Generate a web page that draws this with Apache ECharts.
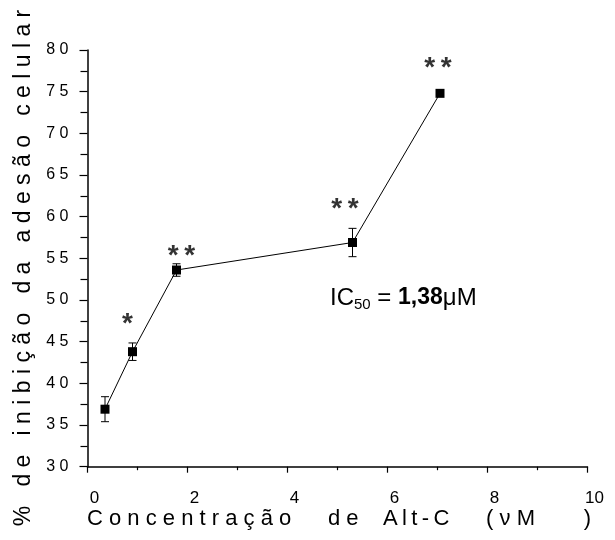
<!DOCTYPE html>
<html>
<head>
<meta charset="utf-8">
<script src="https://cdn.jsdelivr.net/npm/echarts@6/dist/echarts.min.js"></script>
<style>html,body{margin:0;padding:0;background:#fff}#c{width:615px;height:540px}</style>
</head>
<body>
<div id="c"></div>
<script>
// Data
var concentrations = [0.35, 0.9, 1.78, 5.3, 7.05];
var inhibition = [36.9, 43.8, 53.6, 56.9, 74.8];
var errors = [1.5, 1.05, 0.75, 1.7, 0];
var annotText = ['*', '**', '**', '**'];
var annotX = [0.80, 1.88, 5.15, 7.01];
var annotY = [47.8, 56.0, 61.6, 78.5];
var xTicks = [0, 2, 4, 6, 8, 10];
var yTicks = [30, 35, 40, 45, 50, 55, 60, 65, 70, 75, 80];
var xTitleParts = ['Concentração', 'de', 'Alt-C', '(νM', ')'];
var yTitle = '% de inibição da adesão celular';

function sp(n) { return new Array(n + 1).join(' '); }
function letters(w, sep) { return w.split('').join(sep); }

var xTitle = letters(xTitleParts[0], ' ') + sp(6) + letters(xTitleParts[1], ' ') + sp(4) +
  letters(xTitleParts[2], '\u2009') + sp(6) + letters(xTitleParts[3], ' ') + sp(8) + xTitleParts[4];
var yTitleText = yTitle.split(' ').map(function (w) { return letters(w, ' '); }).join(sp(3));

var lineData = concentrations.map(function (x, i) { return [x, inhibition[i]]; });
var errData = concentrations.map(function (x, i) { return [x, inhibition[i] - errors[i], inhibition[i] + errors[i]]; });
var annData = annotX.map(function (x, i) { return [x, annotY[i], annotText[i].split('').join('\u2009')]; });

var chart = echarts.init(document.getElementById('c'), null, {renderer: 'canvas'});
var font = 'Arial, "Liberation Sans", Helvetica, sans-serif';
chart.setOption({
  animation: false,
  backgroundColor: '#fff',
  grid: {left: 87.5, right: 27.5, top: 50, bottom: 73.3},
  xAxis: {
    type: 'value', min: 0, max: 10, interval: 2,
    axisLine: {lineStyle: {color: '#000', width: 1.5}},
    axisTick: {show: true, length: 6, lineStyle: {color: '#000', width: 1.2}},
    minorTick: {show: true, splitNumber: 2, length: 3.5, lineStyle: {color: '#000', width: 1.2}},
    splitLine: {show: false},
    axisLabel: {color: '#000', fontSize: 17, fontFamily: font, margin: 23, padding: [0, 0, 0, 14],
      formatter: function (v) { return xTicks.indexOf(v) >= 0 ? String(v) : ''; }}
  },
  yAxis: {
    type: 'value', min: 30, max: 80, interval: 5,
    axisLine: {lineStyle: {color: '#000', width: 1.5}},
    axisTick: {show: true, length: 8, lineStyle: {color: '#000', width: 1.2}},
    minorTick: {show: true, splitNumber: 2, length: 7, lineStyle: {color: '#000', width: 1.2}},
    splitLine: {show: false},
    axisLabel: {color: '#000', fontSize: 16, fontFamily: font, margin: 19,
      formatter: function (v) { return yTicks.indexOf(v) >= 0 ? String(v).split('').join(' ') : ''; }}
  },
  graphic: [
    {type: 'text', x: 87, y: 519, style: {text: xTitle, font: '22px ' + font, fill: '#000', textAlign: 'left', textVerticalAlign: 'middle'}},
    {type: 'text', x: 23.5, y: 268, rotation: Math.PI / 2, style: {text: yTitleText, font: '23px ' + font, fill: '#000', textAlign: 'center', textVerticalAlign: 'middle'}},
    {type: 'text', x: 330, y: 298, style: {
      text: '{a|IC}{s|50}{a| = }{b|1,38}{a|μM}',
      textVerticalAlign: 'middle',
      rich: {
        a: {fontSize: 24, fontFamily: font, fill: '#000', lineHeight: 28},
        s: {fontSize: 15, fontFamily: font, fill: '#000', verticalAlign: 'bottom', lineHeight: 15},
        b: {fontSize: 23, fontFamily: font, fontWeight: 'bold', fill: '#000', lineHeight: 28}
      }
    }}
  ],
  series: [
    {
      type: 'custom', data: errData, z: 3,
      renderItem: function (params, api) {
        var x = api.value(0);
        var lo = api.coord([x, api.value(1)]);
        var hi = api.coord([x, api.value(2)]);
        if (Math.abs(lo[1] - hi[1]) < 1) return null;
        var w = 4;
        var st = {stroke: '#000', lineWidth: 1};
        return {type: 'group', children: [
          {type: 'line', shape: {x1: lo[0], y1: lo[1], x2: hi[0], y2: hi[1]}, style: st},
          {type: 'line', shape: {x1: lo[0] - w, y1: lo[1], x2: lo[0] + w, y2: lo[1]}, style: st},
          {type: 'line', shape: {x1: hi[0] - w, y1: hi[1], x2: hi[0] + w, y2: hi[1]}, style: st}
        ]};
      }
    },
    {
      type: 'line', data: lineData, z: 4,
      symbol: 'rect', symbolSize: 9,
      itemStyle: {color: '#000'},
      lineStyle: {color: '#000', width: 1}
    },
    {
      type: 'scatter', data: annData, symbolSize: 0, z: 5,
      label: {show: true, position: 'inside', offset: [0, 6], color: '#000', fontSize: 28, fontWeight: 'bold', fontFamily: font,
        formatter: function (p) { return p.data[2]; }}
    }
  ]
});
</script>
</body>
</html>
